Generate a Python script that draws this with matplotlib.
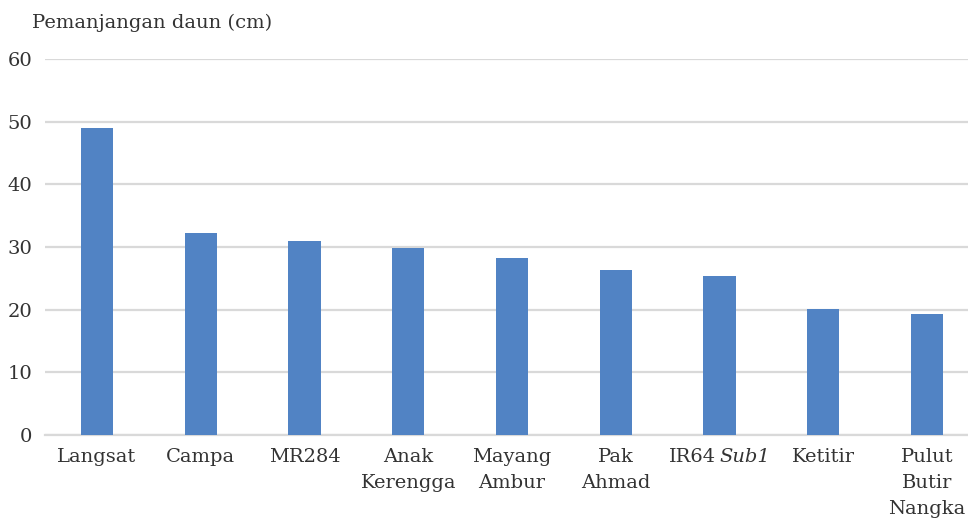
import matplotlib
matplotlib.use("Agg")
import matplotlib.pyplot as plt
from matplotlib.offsetbox import TextArea, HPacker, AnnotationBbox

categories = ["Langsat", "Campa", "MR284", "Anak\nKerengga", "Mayang\nAmbur",
              "Pak\nAhmad", "IR64 Sub1", "Ketitir", "Pulut\nButir\nNangka"]
values = [49.0, 32.3, 30.9, 29.8, 28.2, 26.3, 25.3, 20.1, 19.3]
yticks = [0, 10, 20, 30, 40, 50, 60]
title = "Pemanjangan daun (cm)"

plt.rcParams['font.family'] = ['DejaVu Serif']

W, H = 968, 518
FS = 14
TXT = '#333333'
fig = plt.figure(figsize=(W/100, H/100), dpi=100)
ax = fig.add_axes([45/W, 83/H, 934/W, 376/H])

x = list(range(len(categories)))
ax.bar(x, values, width=0.31, color='#5183C4', zorder=3)
ax.set_xlim(-0.5, len(categories) - 0.5)
ax.set_ylim(0, 60)
ax.set_yticks(yticks)
ax.set_xticks(x)
labels = [c if c != "IR64 Sub1" else "" for c in categories]
ax.set_xticklabels(labels, linespacing=1.6, va='top', ha='center')
ax.yaxis.grid(True, color='#d9d9d9', linewidth=1.6, zorder=0)
ax.set_axisbelow(True)
for s in ['top', 'right', 'left']:
    ax.spines[s].set_visible(False)
ax.spines['bottom'].set_color('#d9d9d9')
ax.spines['bottom'].set_linewidth(1.6)
ax.tick_params(axis='both', length=0, labelsize=FS, labelcolor=TXT)
ax.tick_params(axis='y', pad=9)
ax.tick_params(axis='x', pad=9)

# Label with italic part for IR64 Sub1
idx = categories.index("IR64 Sub1")
t1 = TextArea("IR64", textprops=dict(fontsize=FS, color=TXT))
t2 = TextArea("Sub1", textprops=dict(fontsize=FS, color=TXT, style='italic'))
pack = HPacker(children=[t1, t2], sep=3, pad=0, align='baseline')
ab = AnnotationBbox(pack, (x[idx], 0), xycoords=ax.get_xaxis_transform(),
                    xybox=(0, -9), boxcoords="offset points",
                    box_alignment=(0.5, 1), frameon=False, pad=0,
                    annotation_clip=False)
ax.add_artist(ab)

fig.text(32/W, 1 - 23/H, title, ha='left', va='center', fontsize=FS, color=TXT)

fig.savefig("out.png", dpi=100)
